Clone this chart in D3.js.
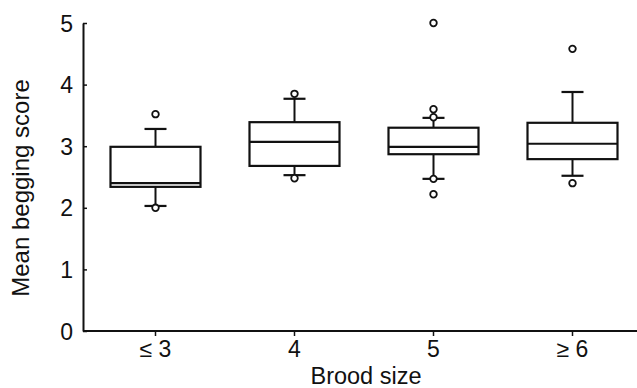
<!DOCTYPE html>
<html>
<head>
<meta charset="utf-8">
<script src="https://cdn.jsdelivr.net/npm/d3@7"></script>
<style>
  body { margin: 0; background: #fff; }
  text { font-family: "Liberation Sans", Arial, sans-serif; fill: #111; }
</style>
</head>
<body>
<div id="chart"></div>
<script>
// Categories and box statistics
var categories = ["≤ 3", "4", "5", "≥ 6"];
var lowerWhisker = [2.03, 2.53, 2.47, 2.52];
var q1 = [2.34, 2.68, 2.87, 2.79];
var median = [2.40, 3.07, 2.99, 3.04];
var q3 = [2.99, 3.39, 3.30, 3.38];
var upperWhisker = [3.28, 3.77, 3.46, 3.88];
var outliers = [
    [3.52, 2.00],
    [3.85, 2.48],
    [5.0, 3.60, 3.47, 2.47, 2.22],
    [4.58, 2.40]
];
var yTicks = [0, 1, 2, 3, 4, 5];

var width = 637, height = 388;
var margin = { top: 23, right: 0, bottom: 57, left: 83 };

var svg = d3.select("#chart").append("svg")
    .attr("width", width)
    .attr("height", height);

var data = categories.map((c, i) => ({
    cat: c,
    lo: lowerWhisker[i], q1: q1[i], med: median[i], q3: q3[i], hi: upperWhisker[i],
    out: outliers[i]
}));

// Scales
var x = d3.scaleBand()
    .domain(categories)
    .range([86, 642])
    .padding(0);

var y = d3.scaleLinear()
    .domain([0, 5])
    .range([height - margin.bottom, margin.top]);

var boxW = 90, capW = 22;

// Axes
var xAxis = svg.append("g")
    .attr("transform", `translate(0, ${y(0)})`)
    .call(d3.axisBottom(x).tickSizeInner(5).tickSizeOuter(0).tickPadding(5));
xAxis.select(".domain").attr("d", `M${margin.left},0H${width}`);

var yAxis = svg.append("g")
    .attr("transform", `translate(${margin.left}, 0)`)
    .call(d3.axisLeft(y).tickValues(yTicks).tickFormat(d3.format("d"))
        .tickSizeInner(-4).tickSizeOuter(0).tickPadding(10));

svg.selectAll(".domain").attr("stroke", "#111").attr("stroke-width", 2);
svg.selectAll(".tick line").attr("stroke", "#111").attr("stroke-width", 1.5);
svg.selectAll(".tick text")
    .style("font-family", "'Liberation Sans', Arial, sans-serif")
    .style("font-size", "23px")
    .attr("fill", "#111");
yAxis.selectAll(".tick text").attr("dy", "0.35em");

// Boxes
var g = svg.selectAll(".box")
    .data(data)
    .enter().append("g")
    .attr("class", "box")
    .attr("transform", d => `translate(${x(d.cat) + x.bandwidth() / 2}, 0)`);

g.append("line")
    .attr("x1", 0).attr("x2", 0)
    .attr("y1", d => y(d.hi)).attr("y2", d => y(d.q3))
    .attr("stroke", "#111").attr("stroke-width", 2);
g.append("line")
    .attr("x1", 0).attr("x2", 0)
    .attr("y1", d => y(d.q1)).attr("y2", d => y(d.lo))
    .attr("stroke", "#111").attr("stroke-width", 2);
g.append("line")
    .attr("x1", -capW / 2).attr("x2", capW / 2)
    .attr("y1", d => y(d.hi)).attr("y2", d => y(d.hi))
    .attr("stroke", "#111").attr("stroke-width", 2.2);
g.append("line")
    .attr("x1", -capW / 2).attr("x2", capW / 2)
    .attr("y1", d => y(d.lo)).attr("y2", d => y(d.lo))
    .attr("stroke", "#111").attr("stroke-width", 2.2);

g.append("rect")
    .attr("x", -boxW / 2)
    .attr("width", boxW)
    .attr("y", d => y(d.q3))
    .attr("height", d => y(d.q1) - y(d.q3))
    .attr("fill", "none")
    .attr("stroke", "#111").attr("stroke-width", 2.2);
g.append("line")
    .attr("x1", -boxW / 2).attr("x2", boxW / 2)
    .attr("y1", d => y(d.med)).attr("y2", d => y(d.med))
    .attr("stroke", "#111").attr("stroke-width", 2.2);

g.selectAll(".out")
    .data(d => d.out)
    .enter().append("circle")
    .attr("class", "out")
    .attr("cx", 0)
    .attr("cy", d => y(d))
    .attr("r", 3.3)
    .attr("fill", "#fff")
    .attr("stroke", "#111").attr("stroke-width", 1.8);

// Axis titles
svg.append("text")
    .attr("x", 366)
    .attr("y", 384)
    .attr("text-anchor", "middle")
    .style("font-size", "23.5px")
    .text("Brood size");

svg.append("text")
    .attr("transform", `translate(29, 188) rotate(-90)`)
    .attr("text-anchor", "middle")
    .style("font-size", "24px")
    .text("Mean begging score");
</script>
</body>
</html>
